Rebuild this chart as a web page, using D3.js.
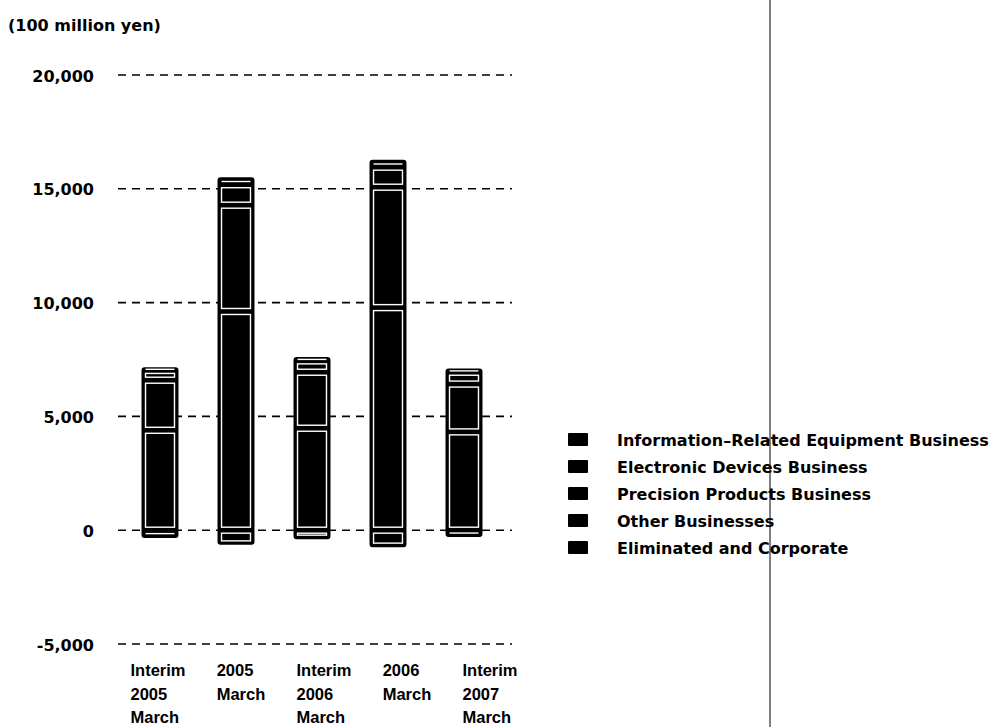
<!DOCTYPE html>
<html>
<head>
<meta charset="utf-8">
<script src="https://cdn.jsdelivr.net/npm/d3@7/dist/d3.min.js"></script>
<style>
  html, body { margin: 0; padding: 0; background: #fff; }
  svg { display: block; }
  text { font-family: "DejaVu Sans", sans-serif; font-weight: bold; fill: #000; }
</style>
</head>
<body>
<svg id="chart" width="991" height="727"></svg>
<script>
// Period labels (one line per array entry)
const categories = [
  ["Interim", "2005", "March"],
  ["2005", "March"],
  ["Interim", "2006", "March"],
  ["2006", "March"],
  ["Interim", "2007", "March"]
];

// Segment net sales, 100 million yen
const infoEquipment   = [4390, 9610, 4480, 9780, 4320];
const electronicDev   = [2200, 4670, 2460, 5290, 2100];
const precisionProd   = [430, 900, 500, 880, 520];
const otherBusiness   = [100, 280, 130, 280, 120];
const eliminatedCorp  = [-300, -600, -350, -700, -250];

const seriesNames = [
  "Information\u2013Related Equipment Business",
  "Electronic Devices Business",
  "Precision Products Business",
  "Other Businesses",
  "Eliminated and Corporate"
];

const yTicks = [-5000, 0, 5000, 10000, 15000, 20000];

const svg = d3.select("#chart");

const y = d3.scaleLinear().domain([-5000, 20000]).range([644, 75]);
const x = d3.scaleBand()
  .domain(d3.range(categories.length))
  .range([122, 502])
  .paddingInner(0.54)
  .paddingOuter(0.27);
// Category captions sit on their own, slightly wider spacing (block centres)
const xLabel = d3.scalePoint()
  .domain(d3.range(categories.length))
  .range([158, 490]);

// Unit caption
svg.append("text")
  .attr("x", 8).attr("y", 31)
  .style("font-size", "16px")
  .text("(100 million yen)");

// Dashed gridlines
svg.append("g")
  .selectAll("line")
  .data(yTicks)
  .join("line")
  .attr("x1", 118).attr("x2", 512)
  .attr("y1", d => y(d)).attr("y2", d => y(d))
  .attr("stroke", "#000")
  .attr("stroke-width", 1.6)
  .attr("stroke-dasharray", "8,6");

// Y axis labels
const yAxis = d3.axisLeft(y)
  .tickValues(yTicks)
  .tickSize(0)
  .tickPadding(0)
  .tickFormat(d => d3.format(",")(d).replace("\u2212", "-"));
const gy = svg.append("g")
  .attr("transform", "translate(94,0)")
  .call(yAxis);
gy.select(".domain").remove();
gy.selectAll("text")
  .attr("dy", "0.38em")
  .style("font-size", "16px")
  .style("font-family", "'DejaVu Sans', sans-serif")
  .style("font-weight", "bold");

// Build stacked segments per bar
const bars = categories.map((c, i) => {
  const segs = [];
  let base = 0;
  [infoEquipment[i], electronicDev[i], precisionProd[i], otherBusiness[i]].forEach(v => {
    segs.push({ y0: base, y1: base + v });
    base += v;
  });
  segs.push({ y0: eliminatedCorp[i], y1: 0 });
  return { i, segs, top: base, bottom: eliminatedCorp[i] };
});

const barG = svg.append("g")
  .selectAll("g")
  .data(bars)
  .join("g");

// Solid body of each bar
barG.append("rect")
  .attr("x", d => x(d.i))
  .attr("width", x.bandwidth())
  .attr("y", d => y(d.top))
  .attr("height", d => y(d.bottom) - y(d.top))
  .attr("rx", 2)
  .attr("fill", "#000")
  .attr("stroke", "#000")
  .attr("stroke-width", 2);

// White inner outline of each segment (a single rule for very thin ones)
barG.each(function(d) {
  const g = d3.select(this);
  const inset = 3;
  d.segs.forEach(s => {
    const top = y(s.y1), bot = y(s.y0);
    const h = bot - top - 2 * inset;
    if (h > 1) {
      g.append("rect")
        .attr("x", x(d.i) + inset)
        .attr("width", x.bandwidth() - 2 * inset)
        .attr("y", top + inset)
        .attr("height", h)
        .attr("fill", "none")
        .attr("stroke", "#fff")
        .attr("stroke-width", 1.4);
    } else {
      g.append("line")
        .attr("x1", x(d.i) + inset)
        .attr("x2", x(d.i) + x.bandwidth() - inset)
        .attr("y1", (top + bot) / 2)
        .attr("y2", (top + bot) / 2)
        .attr("stroke", "#fff")
        .attr("stroke-width", 1.4);
    }
  });
});

// Category labels: each block left-aligned, centred on its slot
const labelG = svg.append("g");
categories.forEach((lines, i) => {
  const t = labelG.append("text")
    .attr("y", 676)
    .style("font-family", "'Liberation Sans', Arial, sans-serif")
    .style("font-size", "16.5px");
  const spans = lines.map((ln, k) =>
    t.append("tspan")
      .attr("dy", k === 0 ? 0 : 23.5)
      .text(ln));
  const w = d3.max(spans, s => s.node().getComputedTextLength());
  const left = xLabel(i) - w / 2;
  spans.forEach(s => s.attr("x", left));
});

// Legend
const legend = svg.append("g").attr("transform", "translate(568,433)");
const item = legend.selectAll("g")
  .data(seriesNames)
  .join("g")
  .attr("transform", (d, k) => `translate(0,${k * 27})`);
item.append("rect")
  .attr("width", 20).attr("height", 13)
  .attr("rx", 1)
  .attr("fill", "#000");
item.append("text")
  .attr("x", 49).attr("y", 6.5)
  .attr("dy", "0.38em")
  .style("font-size", "16px")
  .text(d => d);

// Page fold line
svg.append("line")
  .attr("x1", 770).attr("x2", 770)
  .attr("y1", 0).attr("y2", 727)
  .attr("stroke", "#000")
  .attr("stroke-width", 1);
</script>
</body>
</html>
